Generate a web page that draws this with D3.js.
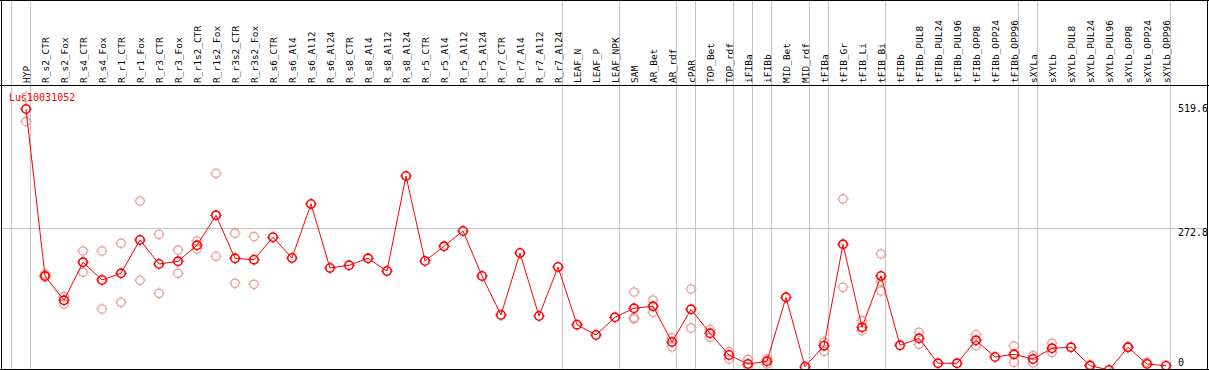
<!DOCTYPE html>
<head>
  <meta charset="utf-8">
  <script src="https://d3js.org/d3.v7.min.js"></script>
  <style type="text/css">
    body { margin: 0; background: #fff; }
    svg { display: block; }
    text { font-family: "DejaVu Sans Mono", monospace; }
  </style>
</head>

<body>
  <script type="text/javascript">
    var gene = "Lus10031052";

    var columns = ["HYP",
      "R_s2_CTR", "R_s2_Fox", "R_s4_CTR", "R_s4_Fox", "R_r1_CTR", "R_r1_Fox", "R_r3_CTR", "R_r3_Fox",
      "R_r1s2_CTR", "R_r1s2_Fox", "R_r3s2_CTR", "R_r3s2_Fox",
      "R_s6_CTR", "R_s6_Al4", "R_s6_Al12", "R_s6_Al24", "R_s8_CTR", "R_s8_Al4", "R_s8_Al12", "R_s8_Al24",
      "R_r5_CTR", "R_r5_Al4", "R_r5_Al12", "R_r5_Al24", "R_r7_CTR", "R_r7_Al4", "R_r7_Al12", "R_r7_Al24",
      "LEAF_N", "LEAF_P", "LEAF_NPK", "SAM", "AR_Bet", "AR_rdf", "cPAR", "TOP_Bet", "TOP_rdf",
      "iFIBa", "iFIBb", "MID_Bet", "MID_rdf", "tFIBa", "tFIB_Gr", "tFIB_Li", "tFIB_Bi",
      "tFIBb", "tFIBb_PUL8", "tFIBb_PUL24", "tFIBb_PUL96", "tFIBb_OPP8", "tFIBb_OPP24", "tFIBb_OPP96",
      "sXYLa", "sXYLb", "sXYLb_PUL8", "sXYLb_PUL24", "sXYLb_PUL96", "sXYLb_OPP8", "sXYLb_OPP24", "sXYLb_OPP96"];

    // size of each tissue group (separator drawn after each)
    var groupSizes = [1, 28, 3, 3, 1, 2, 1, 1, 2, 1, 3, 7, 1, 7];

    var means = [497,
      183.1, 137.4, 208.9, 175.6, 188.2, 250.8, 205.7, 210.7,
      240.8, 297.2, 216.4, 213.7,
      255.9, 216.9, 318.5, 198.2, 203.2, 216.4, 192.5, 371.1,
      211.3, 238.9, 267.7, 183.1, 109.8, 226.3, 107.9, 200.0,
      91.6, 72.2, 105.5, 122.4, 126.1, 59.0, 120.5, 75.4, 34.6,
      17.7, 22.7, 143.1, 12.6, 52.1, 242.7, 86.7, 183.1,
      52.8, 66.0, 19.0, 19.0, 62.2, 30.8, 35.9,
      27.1, 47.2, 49.1, 14.5, 6.4, 49.1, 17.7, 14.5];

    var reps = [[519.6, 473.2],
      [186.9, 181.2], [144.2, 130.5], [230.1, 190.1], [230.1, 121.1], [244.6, 133.7], [324.1, 175.0],
      [261.5, 150.6], [232.0, 188.2], [248.9, 233.9], [376.2, 220.1], [263.4, 169.4], [257.0, 167.5],
      [], [], [], [], [], [], [], [],
      [], [], [], [], [], [], [], [],
      [], [], [], [153.0, 104.7, 102.3], [138.0, 114.9], [66.6, 49.6], [158.7, 85.4], [82.2, 67.9], [40.8, 27.1],
      [26.5, 12.6], [27.1, 17.7], [], [], [59.0, 41.5], [327.9, 161.9], [99.1, 80.3], [224.5, 172.4, 154.9],
      [], [77.3, 54.7], [], [], [72.8, 52.1], [], [51.5, 20.9],
      [33.3, 19.6], [56.6, 38.9], [], [16.5], [], [50.2], [20.9], []];

    var yTicks = [0, 272.8, 519.6];

    var width = 1209, height = 370;
    var headerBottom = 85, plotBottom = 369, left = 1.5, right = 1207.5;

    var x = d3.scalePoint().domain(columns).range([26, 1166]);
    var step = x.step();
    var y = d3.scaleLinear().domain([0, 519.6]).range([373.4, 97]);

    var svg = d3.select("body").append("svg")
      .attr("width", width)
      .attr("height", height);

    svg.append("defs").append("clipPath").attr("id", "plotclip")
      .append("rect")
      .attr("x", 2).attr("y", headerBottom + 1)
      .attr("width", right - 2).attr("height", plotBottom - headerBottom - 1);

    // vertical group separators
    var seps = [x(columns[0]) - step];
    var acc = 0;
    groupSizes.forEach(function(n) {
      acc += n;
      seps.push(x(columns[acc - 1]));
    });
    svg.selectAll(".sep")
      .data(seps)
      .enter().append("line")
      .attr("class", "sep")
      .attr("x1", function(d) { return Math.round(d) + 4.5; })
      .attr("x2", function(d) { return Math.round(d) + 4.5; })
      .attr("y1", 0).attr("y2", plotBottom)
      .attr("stroke", "#c4c4c4");

    // horizontal grid (middle tick only)
    svg.append("line")
      .attr("x1", left).attr("x2", right)
      .attr("y1", Math.round(y(272.8)) + 0.5).attr("y2", Math.round(y(272.8)) + 0.5)
      .attr("stroke", "#c4c4c4");

    // column labels
    svg.selectAll(".collab")
      .data(columns)
      .enter().append("text")
      .attr("class", "collab")
      .attr("transform", function(d) { return "translate(" + (x(d) + 4) + ",83) rotate(-90)"; })
      .attr("font-size", "9.5px")
      .attr("fill", "#000")
      .text(function(d) { return d; });

    // right axis labels
    svg.selectAll(".ylab")
      .data(yTicks)
      .enter().append("text")
      .attr("class", "ylab")
      .attr("x", 1178)
      .attr("y", function(d) { return Math.max(108, Math.min(362, y(d) + 4)); })
      .attr("dy", "0.35em")
      .attr("font-size", "10px")
      .attr("fill", "#000")
      .text(function(d) { return d; });

    var plot = svg.append("g").attr("clip-path", "url(#plotclip)");

    function marker(g, color, sw) {
      g.append("circle")
        .attr("r", 4.2)
        .attr("fill", "none")
        .attr("stroke", color)
        .attr("stroke-width", sw);
      g.append("path")
        .attr("d", "M0,-4.5V-5.8M0,4.5V5.8M-4.5,0H-5.8M4.5,0H5.8")
        .attr("stroke", color)
        .attr("stroke-width", 1);
    }

    // replicate points
    var repPts = [];
    reps.forEach(function(r, i) {
      r.forEach(function(v) { repPts.push({ c: columns[i], v: v }); });
    });
    plot.selectAll(".rep")
      .data(repPts)
      .enter().append("g")
      .attr("class", "rep")
      .attr("transform", function(d) { return "translate(" + x(d.c) + "," + y(d.v) + ")"; })
      .each(function() { marker(d3.select(this), "#ea9c9c", 1.3); });

    // mean line
    var line = d3.line()
      .x(function(d, i) { return x(columns[i]); })
      .y(function(d) { return y(d); });
    plot.append("path")
      .datum(means)
      .attr("d", line)
      .attr("fill", "none")
      .attr("stroke", "#ff0000")
      .attr("stroke-width", 1);

    plot.selectAll(".mean")
      .data(means)
      .enter().append("g")
      .attr("class", "mean")
      .attr("transform", function(d, i) { return "translate(" + x(columns[i]) + "," + y(d) + ")"; })
      .each(function() { marker(d3.select(this), "#ff0000", 1.6); });

    // gene name
    svg.append("text")
      .attr("x", 9).attr("y", 101)
      .attr("font-size", "10px")
      .attr("fill", "#ff0000")
      .text(gene);

    // borders
    svg.append("line").attr("x1", 0).attr("x2", width).attr("y1", 0.5).attr("y2", 0.5).attr("stroke", "#000");
    svg.append("line").attr("x1", 0).attr("x2", width).attr("y1", headerBottom + 0.5).attr("y2", headerBottom + 0.5).attr("stroke", "#000");
    svg.append("line").attr("x1", 0).attr("x2", width).attr("y1", plotBottom + 0.5).attr("y2", plotBottom + 0.5).attr("stroke", "#000");
    svg.append("line").attr("x1", left).attr("x2", left).attr("y1", 0).attr("y2", plotBottom).attr("stroke", "#000");
    svg.append("line").attr("x1", right).attr("x2", right).attr("y1", 0).attr("y2", plotBottom).attr("stroke", "#000");
  </script>
</body>
